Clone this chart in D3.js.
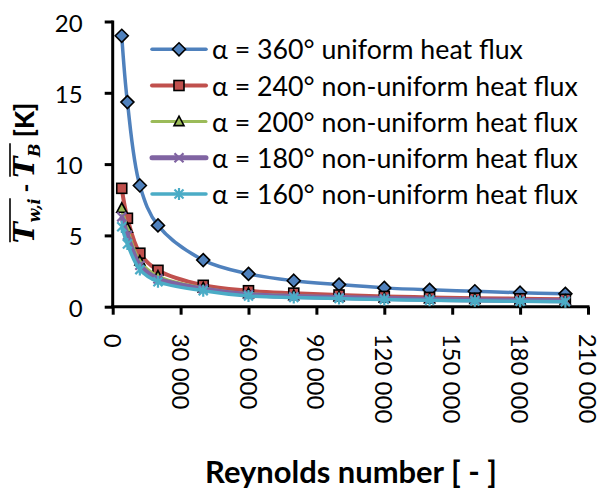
<!DOCTYPE html>
<html>
<head>
<meta charset="utf-8">
<script src="https://cdn.jsdelivr.net/npm/d3@7"></script>
<style>
  html, body { margin: 0; padding: 0; background: #fff; }
  svg { display: block; }
</style>
</head>
<body>
<svg id="chart" width="609" height="497"></svg>
<script>
// ---------- data ----------
const reynolds = [4000, 6500, 12000, 20000, 40000, 60000, 80000, 100000, 120000, 140000, 160000, 180000, 200000];
const seriesNames = [
  "α = 360° uniform heat flux",
  "α = 240° non-uniform heat flux",
  "α = 200° non-uniform heat flux",
  "α = 180° non-uniform heat flux",
  "α = 160° non-uniform heat flux"
];
const alpha360 = [19.0, 14.35, 8.5, 5.7, 3.27, 2.3, 1.82, 1.55, 1.32, 1.18, 1.08, 0.98, 0.9];
const alpha240 = [8.3, 6.2, 3.75, 2.55, 1.5, 1.12, 0.95, 0.82, 0.72, 0.65, 0.6, 0.56, 0.52];
const alpha200 = [6.9, 5.5, 3.2, 2.15, 1.32, 0.92, 0.77, 0.68, 0.6, 0.55, 0.5, 0.47, 0.44];
const alpha180 = [6.3, 5.0, 2.9, 1.95, 1.25, 0.85, 0.72, 0.64, 0.57, 0.51, 0.47, 0.44, 0.41];
const alpha160 = [5.6, 4.4, 2.6, 1.75, 1.12, 0.75, 0.64, 0.57, 0.5, 0.45, 0.41, 0.38, 0.35];
const xTicks = [0, 30000, 60000, 90000, 120000, 150000, 180000, 210000];
const yTicks = [0, 5, 10, 15, 20];
const xTitle = "Reynolds number [ - ]";

// ---------- styles ----------
const colors = ["#4F81BD", "#C0504D", "#9BBB59", "#8064A2", "#4BACC6"];
const lineWidths = [3.5, 4, 3, 5, 3.5];
const markers = ["diamond", "square", "triangle", "cross", "asterisk"];
const allValues = [alpha360, alpha240, alpha200, alpha180, alpha160];
const sans = "Lato, 'Open Sans', 'DejaVu Sans', sans-serif";
const serif = "'DejaVu Serif', 'Liberation Serif', serif";

const svg = d3.select("#chart");

const x = d3.scaleLinear().domain([0, 210000]).range([112.7, 588]);
const y = d3.scaleLinear().domain([0, 20]).range([306.7, 21.5]);

const fmt = d3.formatLocale({decimal: ".", thousands: " ", grouping: [3], currency: ["", ""]}).format(",");

// ---------- axes ----------
const yAxis = svg.append("g").attr("transform", `translate(${x(0)},0)`)
  .call(d3.axisLeft(y).tickValues(yTicks).tickSize(8).tickPadding(0).tickFormat(d => d));
yAxis.select(".domain").attr("stroke", "#000").attr("stroke-width", 3).attr("d", `M0,${y(20) - 1}V${y(0)}`);
yAxis.selectAll(".tick line").attr("stroke", "#000").attr("stroke-width", 3);
yAxis.selectAll(".tick text")
  .attr("x", -30).attr("dy", null).attr("dominant-baseline", "central")
  .style("font-family", sans).style("font-size", "24px").attr("fill", "#000");

const xAxis = svg.append("g").attr("transform", `translate(0,${y(0)})`)
  .call(d3.axisBottom(x).tickValues(xTicks).tickSize(8).tickFormat(d => fmt(d)));
xAxis.select(".domain").attr("stroke", "#000").attr("stroke-width", 3).attr("d", `M${x(0) - 1.5},0H${x(210000) + 1.5}`);
xAxis.selectAll(".tick line").attr("stroke", "#000").attr("stroke-width", 3);
xAxis.selectAll(".tick text")
  .attr("y", null).attr("dy", null)
  .attr("transform", "translate(0,27) rotate(90)")
  .attr("text-anchor", "start").attr("dominant-baseline", "central")
  .style("font-family", sans).style("font-size", "24px").attr("fill", "#000");
svg.selectAll(".tick text").attr("font-family", null).attr("font-size", null);

// ---------- markers ----------
function drawMarker(g, type, color) {
  if (type === "diamond") {
    g.append("path").attr("d", "M0,-6.5L6.5,0L0,6.5L-6.5,0Z").attr("fill", color).attr("stroke", "#000").attr("stroke-width", 1.6);
  } else if (type === "square") {
    g.append("rect").attr("x", -5).attr("y", -5).attr("width", 10).attr("height", 10)
      .attr("fill", color).attr("stroke", "#000").attr("stroke-width", 1.6);
  } else if (type === "triangle") {
    g.append("path").attr("d", "M0,-5.5L5,4L-5,4Z").attr("fill", color).attr("stroke", "#000").attr("stroke-width", 1.6);
  } else if (type === "cross") {
    g.append("path").attr("d", "M-4.5,-4.5L4.5,4.5M-4.5,4.5L4.5,-4.5").attr("stroke", color).attr("stroke-width", 2.2);
  } else if (type === "asterisk") {
    g.append("path").attr("d", "M-4.5,-4.5L4.5,4.5M-4.5,4.5L4.5,-4.5M0,-6V6").attr("stroke", color).attr("stroke-width", 2.2);
  }
}

// ---------- series ----------
const line = d3.line().x(d => x(d[0])).y(d => y(d[1])).curve(d3.curveCatmullRom.alpha(0.5));
allValues.forEach((vals, i) => {
  const pts = reynolds.map((r, j) => [r, vals[j]]);
  const g = svg.append("g");
  g.append("path").attr("d", line(pts)).attr("fill", "none")
    .attr("stroke", colors[i]).attr("stroke-width", lineWidths[i]).attr("stroke-linejoin", "round");
  pts.forEach(p => {
    const m = g.append("g").attr("transform", `translate(${x(p[0])},${y(p[1])})`);
    drawMarker(m, markers[i], colors[i]);
  });
});

// ---------- legend ----------
const legend = svg.append("g");
const legendRowY = [49.3, 85.5, 121.6, 157.8, 194];
const legendTexts = [];
seriesNames.forEach((name, i) => {
  const row = legend.append("g").attr("transform", `translate(0,${legendRowY[i]})`);
  row.append("line").attr("x1", 152).attr("x2", 206).attr("y1", 0).attr("y2", 0)
    .attr("stroke", colors[i]).attr("stroke-width", lineWidths[i]).attr("stroke-linecap", "round");
  const m = row.append("g").attr("transform", "translate(179,0)");
  drawMarker(m, markers[i], colors[i]);
  legendTexts.push(row.append("text").attr("x", 212).attr("y", 0).attr("dominant-baseline", "central")
    .style("font-family", sans).style("font-size", "24px").attr("fill", "#000").text(name));
});
// fit legend font so the first entry matches the reference width
const w0 = legendTexts[0].node().getComputedTextLength();
const legendSize = 24 * 311 / w0;
legendTexts.forEach(t => t.style("font-size", legendSize + "px"));

// ---------- x title ----------
const xt = svg.append("text").attr("x", 351).attr("y", 483).attr("text-anchor", "middle")
  .style("font-family", sans).style("font-size", "24px").style("font-weight", "bold").attr("fill", "#000").text(xTitle);
const xtw = xt.node().getComputedTextLength();
xt.style("font-size", (24 * 292 / xtw) + "px");

// ---------- y title ----------
const yl = svg.append("g");
const pieces = [
  {t: "T", font: serif, size: 28, weight: "bold", style: "italic", dy: 0, over: 1},
  {t: "w,i", font: serif, size: 16, weight: "bold", style: "italic", dy: 6, over: 1},
  {t: " - ", font: sans, size: 24, weight: "bold", style: "normal", dy: 0, over: 0},
  {t: "T", font: serif, size: 28, weight: "bold", style: "italic", dy: 0, over: 2},
  {t: "B", font: serif, size: 16, weight: "bold", style: "italic", dy: 6, over: 2},
  {t: " [K]", font: sans, size: 26, weight: "900", style: "normal", dy: 0, over: 0}
];
let cx = 0;
const overSpans = {};
pieces.forEach(p => {
  const t = yl.append("text").attr("x", cx).attr("y", p.dy)
    .style("font-family", p.font).style("font-size", p.size + "px")
    .style("font-weight", p.weight).style("font-style", p.style)
    .attr("fill", "#000").attr("xml:space", "preserve").style("white-space", "pre").text(p.t);
  const w = t.node().getComputedTextLength();
  if (p.over) {
    if (!overSpans[p.over]) overSpans[p.over] = [cx, cx + w];
    else overSpans[p.over][1] = cx + w;
  }
  cx += w;
});
Object.values(overSpans).forEach(s => {
  yl.append("line").attr("x1", s[0] + 1).attr("x2", s[1]).attr("y1", -24).attr("y2", -24)
    .attr("stroke", "#000").attr("stroke-width", 1.6);
});
const total = cx;
yl.attr("transform", `translate(34,${173 + total / 2}) rotate(-90)`);
</script>
</body>
</html>
